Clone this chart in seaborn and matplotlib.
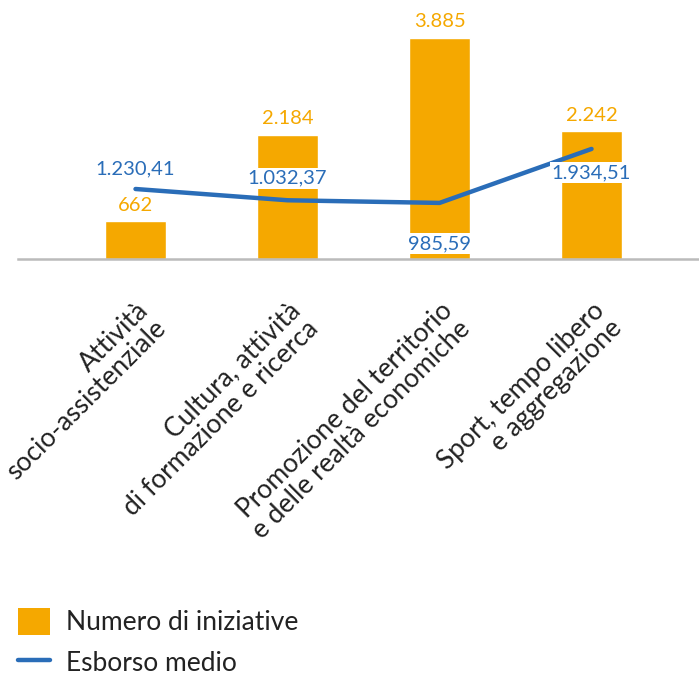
import pandas as pd
import matplotlib
matplotlib.use("Agg")
import matplotlib.pyplot as plt
import seaborn as sns
from matplotlib.patches import Patch
from matplotlib.lines import Line2D

# Data
categories = [
    "Attività\nsocio-assistenziale",
    "Cultura, attività\ndi formazione e ricerca",
    "Promozione del territorio\ne delle realtà economiche",
    "Sport, tempo libero\ne aggregazione",
]
num_iniziative = [662, 2184, 3885, 2242]
esborso_medio = [1230.41, 1032.37, 985.59, 1934.51]
bar_labels = ["662", "2.184", "3.885", "2.242"]
line_labels = ["1.230,41", "1.032,37", "985,59", "1.934,51"]

ORANGE = "#F5A800"
BLUE = "#2A6DB8"

df = pd.DataFrame({"cat": categories, "n": num_iniziative, "esb": esborso_medio})

sns.set_theme(style="white")
plt.rcParams["font.family"] = ["Lato", "DejaVu Sans"]

fig = plt.figure(figsize=(6.99, 6.78), dpi=100)
ax = fig.add_axes([18 / 699, (678 - 259) / 678, 1 - 18 / 699, 259 / 678])

sns.barplot(data=df, x="cat", y="n", color=ORANGE, width=0.4, saturation=1, ax=ax)
sns.lineplot(x=range(len(categories)), y=esborso_medio, color=BLUE, linewidth=3.2, ax=ax)

ax.set_xlim(-0.773, 3.707)
ax.set_ylim(0, 4552)
ax.set_xlabel("")
ax.set_ylabel("")
ax.set_yticks([])
for s in ["top", "left", "right"]:
    ax.spines[s].set_visible(False)
ax.spines["bottom"].set_color("#BBBBBB")
ax.spines["bottom"].set_linewidth(1.8)

# bar labels
for i, (v, lab) in enumerate(zip(num_iniziative, bar_labels)):
    ax.annotate(lab, (i, v), xytext=(0, 16), textcoords="offset pixels",
                ha="center", va="center", color=ORANGE, fontsize=14.5, clip_on=False)

# line labels
offsets = [20, 22, -41, -24]
for i, (v, lab, off) in enumerate(zip(esborso_medio, line_labels, offsets)):
    ax.annotate(lab, (i, v), xytext=(0, off), textcoords="offset pixels",
                ha="center", va="center", color=BLUE, fontsize=14.5,
                bbox=dict(boxstyle="square,pad=0.1", fc="white", ec="none"))

ax.tick_params(axis="x", length=0, pad=28)
ax.set_xticks(range(len(categories)))
ax.set_xticklabels(categories, rotation=45, ha="right", rotation_mode="anchor",
                   fontsize=19, color="#222222", multialignment="right",
                   linespacing=1.02)

handles = [
    Patch(facecolor=ORANGE, edgecolor="none", label="Numero di iniziative"),
    Line2D([0], [0], color=BLUE, linewidth=3.2, label="Esborso medio"),
]
fig.legend(handles=handles, loc="upper left", bbox_to_anchor=(18 / 699, 1 - 608 / 678),
           frameon=False, handlelength=1.2, handleheight=1.2,
           borderpad=0, borderaxespad=0, labelspacing=0.5, handletextpad=0.6,
           labelcolor="#222222", prop={"size": 19})

fig.savefig("out.png", dpi=100)
